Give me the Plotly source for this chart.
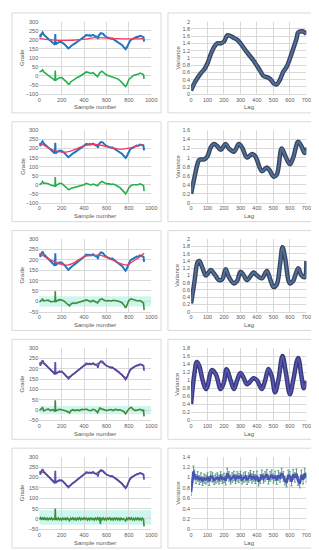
import plotly.graph_objects as go

W, H = 319, 550

# ---------------- data: grade series (shared by all left panels) ----------------
sample_no = [0, 10, 20, 30, 40, 50, 60, 70, 80, 90, 100, 110, 120, 130, 140, 143, 146, 150, 160, 170,
             180, 190, 200, 210, 220, 230, 240, 250, 260, 270, 280, 290, 300, 310, 320, 330, 340, 350,
             360, 370, 380, 390, 400, 410, 420, 430, 440, 450, 460, 470, 480, 490, 500, 510, 520, 523,
             530, 540, 550, 560, 570, 580, 590, 600, 610, 620, 630, 640, 650, 660, 670, 680, 690, 700,
             710, 720, 730, 740, 750, 760, 770, 780, 790, 800, 810, 820, 830, 840, 850, 860, 870, 880,
             890, 900, 910, 920, 930, 935]
grade = [228, 214, 232, 240, 228, 222, 218, 210, 206, 200, 197, 190, 184, 176, 172, 232, 174, 176, 181, 184,
         188, 186, 187, 182, 178, 172, 165, 155, 152, 157, 164, 168, 173, 176, 180, 186, 190, 194,
         197, 202, 206, 210, 215, 220, 226, 224, 222, 225, 221, 224, 227, 222, 219, 216, 214, 204,
         222, 230, 236, 235, 232, 224, 218, 214, 212, 210, 206, 205, 207, 203, 200, 197, 193, 190,
         186, 181, 176, 170, 162, 154, 148, 156, 168, 186, 194, 200, 204, 208, 210, 212, 216, 215,
         218, 222, 220, 218, 214, 190]

# trends
trend1_x = [0, 100, 200, 300, 400, 500, 600, 700, 800, 935]
trend1 = [206, 200, 196, 197, 203, 211, 209, 206, 205, 206]
trend2_x = [0, 50, 100, 150, 200, 250, 300, 350, 400, 450, 500, 550, 600, 650, 700, 750, 800, 850, 900, 935]
trend2 = [228, 215, 198, 185, 180, 181, 190, 203, 215, 222, 223, 218, 210, 203, 198, 197, 202, 210, 217, 222]
trend3_x = [0, 100, 200, 250, 300, 350, 400, 450, 500, 550, 600, 650, 700, 750, 780, 800, 850, 900, 935]
trend3 = [232, 200, 178, 175, 183, 200, 215, 222, 222, 222, 212, 200, 188, 178, 175, 180, 198, 215, 232]
trend4_x = [0, 50, 100, 150, 200, 250, 300, 350, 400, 450, 500, 550, 600, 650, 700, 750, 780, 800, 850, 900, 935]
trend4 = [230, 222, 196, 180, 184, 160, 172, 194, 214, 223, 220, 230, 214, 205, 190, 163, 158, 182, 210, 220, 214]
trend5 = [229, 221, 197, 178, 185, 158, 173, 195, 215, 224, 219, 232, 214, 206, 190, 162, 156, 184, 210, 221, 212]

# residuals
resid_x = [0, 20, 30, 40, 60, 80, 100, 120, 140, 143, 146, 160, 180, 200, 220, 240, 260, 270, 280, 300,
           320, 340, 360, 380, 400, 420, 440, 460, 480, 500, 520, 540, 560, 580, 600, 620, 640, 660,
           680, 700, 720, 740, 760, 770, 780, 800, 820, 840, 860, 880, 900, 920, 930, 935]
resid1 = [22, 27, 34, 22, 13, 5, -3, -14, -26, 30, -24, -17, -10, -9, -18, -31, -45, -44, -33, -24,
          -17, -8, -3, 5, 12, 22, 19, 14, 18, 8, -4, 19, 26, 15, 5, 1, -4, -5,
          -10, -16, -25, -36, -52, -58, -49, -19, -5, 3, 7, 9, 16, 12, 8, -16]
resid2 = [0, 8, 18, 8, 8, 6, -1, -4, -8, 42, -8, 0, 8, 7, -2, -14, -27, -26, -20, -17,
          -15, -10, -9, -5, 0, 8, 2, -1, 4, -3, -6, 11, 18, 12, 4, 6, 2, 4,
          -1, -8, -16, -27, -42, -50, -42, -16, -4, 0, 0, 0, 5, 0, -4, -35]
resid3 = [-4, 4, 10, 2, 5, 6, -2, 0, 0, 48, -2, 3, 8, 6, 2, -8, -20, -22, -14, -8,
          -10, -6, -5, 0, 5, 7, 3, -2, 4, -2, -8, 8, 12, 5, 2, 4, 2, 5,
          4, 2, -2, -8, -22, -32, -22, 5, 12, 8, 6, 2, 4, -5, -8, -42]
resid4 = [-2, 8, 12, -4, 3, 6, -2, 2, -6, 48, -5, 0, 4, 2, 0, -4, -10, -14, -4, 2,
          -2, 1, -2, 4, 2, 5, -1, -3, 4, 0, -12, 10, 6, 3, -2, 1, 3, -2,
          4, 0, 2, -3, -10, -18, -8, 6, 14, 3, -2, 2, 4, -2, 0, -30]
resid5_x = [0, 10, 20, 30, 40, 50, 60, 70, 80, 90, 100, 110, 120, 130, 140, 143, 146, 150, 160, 170,
            180, 190, 200, 210, 220, 230, 240, 250, 260, 270, 280, 290, 300, 310, 320, 330, 340, 350,
            360, 370, 380, 390, 400, 410, 420, 430, 440, 450, 460, 470, 480, 490, 500, 510, 520, 530,
            540, 545, 550, 560, 570, 580, 590, 600, 610, 620, 630, 640, 650, 660, 670, 680, 690, 700,
            710, 720, 730, 740, 750, 760, 770, 780, 790, 800, 810, 820, 830, 840, 850, 860, 870, 880,
            890, 900, 910, 920, 930, 935]
resid5 = [-2, 6, -5, 8, -4, 5, -3, 4, -6, 3, -2, 5, -4, 2, -3, 50, -6, 4, -3, 5,
          -4, 2, -5, 4, -2, 3, -6, 5, -3, -8, 4, -2, 5, -4, 3, -5, 4, -2,
          6, -4, 3, -3, 5, -2, 4, -5, 3, -4, 6, -3, 2, -5, 4, -3, 5, -6,
          8, -24, 4, -3, 5, -4, 3, -5, 4, -2, 5, -4, 3, -5, 4, -3, 6, -4,
          3, -5, 4, -3, 2, -6, -9, 4, -3, 7, -2, 5, -4, 3, -5, 4, -3, 5,
          -4, 3, -5, 4, -3, -36]

# confidence bands of the residual (rows 3-5)
band_lo = [-25, -20, -28]
band_hi = [25, 20, 42]

# ---------------- data: variograms ----------------
lag1 = [0, 20, 40, 60, 80, 100, 120, 140, 160, 180, 200, 220, 240, 260, 280, 300, 340, 380, 400, 420,
        440, 470, 490, 500, 520, 540, 560, 580, 600, 620, 640, 650, 670, 690, 700]
var1 = [0.1, 0.3, 0.45, 0.58, 0.68, 0.85, 1.1, 1.3, 1.4, 1.4, 1.45, 1.62, 1.6, 1.55, 1.5, 1.4, 1.15, 0.92, 0.78, 0.64,
        0.5, 0.45, 0.37, 0.3, 0.27, 0.4, 0.62, 0.75, 0.98, 1.25, 1.52, 1.7, 1.73, 1.7, 1.65]
lag2 = [0, 20, 40, 50, 80, 100, 120, 140, 160, 180, 210, 230, 260, 290, 310, 340, 370, 390, 430, 460,
        480, 500, 520, 550, 570, 600, 620, 650, 670, 690, 700]
var2 = [0.2, 0.55, 0.87, 0.95, 0.96, 1.03, 1.23, 1.3, 1.25, 1.17, 1.3, 1.2, 1.13, 1.3, 1.22, 1.0, 1.08, 1.03, 0.7, 0.78,
        0.7, 0.58, 0.62, 1.2, 1.05, 0.85, 1.0, 1.35, 1.25, 1.1, 1.22]
lag3 = [0, 20, 40, 50, 70, 90, 120, 140, 170, 190, 210, 230, 260, 280, 300, 320, 340, 380, 400, 430,
        460, 480, 500, 520, 540, 555, 570, 600, 620, 650, 670, 690, 700]
var3 = [0.23, 0.8, 1.37, 1.4, 1.2, 1.0, 1.15, 1.05, 0.87, 0.9, 1.17, 0.95, 0.78, 0.85, 1.1, 1.0, 0.87, 1.08, 1.0, 0.92,
        1.12, 0.9, 0.68, 0.75, 1.3, 1.78, 1.5, 0.78, 0.85, 1.2, 1.0, 0.95, 1.4]
lag4 = [0, 20, 35, 50, 70, 90, 100, 125, 150, 180, 200, 215, 240, 260, 280, 300, 320, 340, 380, 400,
        430, 450, 470, 490, 510, 530, 555, 575, 600, 620, 650, 670, 685, 700]
var4 = [0.41, 1.15, 1.45, 1.35, 1.0, 0.78, 0.85, 1.25, 1.15, 0.78, 0.95, 1.27, 1.0, 0.78, 1.0, 1.18, 1.05, 0.9, 1.05, 1.0,
        0.78, 1.0, 1.28, 1.1, 0.7, 1.0, 1.6, 1.2, 0.65, 1.0, 1.55, 1.1, 0.8, 0.98]
lag5 = [0, 10, 15, 20, 30, 40, 50, 60, 70, 80, 90, 100, 110, 120, 130, 140, 150, 160, 170, 180, 190, 200,
        210, 220, 230, 240, 250, 260, 270, 280, 290, 300, 310, 320, 330, 340, 350, 360, 370, 380, 390, 400,
        410, 420, 430, 440, 450, 460, 470, 480, 490, 500, 510, 520, 530, 540, 550, 560, 570, 580, 590, 600,
        610, 620, 630, 640, 650, 660, 670, 680, 690, 700]
var5 = [0.72, 1.0, 1.12, 1.05, 0.97, 1.02, 0.95, 1.0, 0.93, 0.98, 0.96, 1.0, 0.93, 1.02, 1.0, 0.95, 0.98, 1.0, 0.96, 1.02, 0.97, 0.99,
        0.94, 1.08, 1.02, 0.96, 1.0, 1.03, 0.97, 1.02, 0.99, 1.03, 0.96, 1.0, 1.02, 0.95, 1.0, 1.04, 0.98, 1.02, 0.97, 1.03,
        0.92, 0.97, 1.05, 0.98, 1.02, 1.06, 0.96, 1.02, 1.05, 0.98, 1.03, 0.95, 1.04, 1.0, 1.08, 1.02, 0.94, 0.9, 1.05, 1.02,
        0.92, 1.06, 1.0, 1.07, 0.93, 0.88, 1.05, 0.96, 1.08, 1.0]

left_yranges = [(-100, 300), (-100, 300), (-50, 300), (-50, 300), (-50, 300)]
right_ymax = [2, 1.6, 2, 1.8, 1.4]

trends = [(trend1_x, trend1), (trend2_x, trend2), (trend3_x, trend3), (trend4_x, trend4), (trend4_x, trend5)]
resids = [(resid_x, resid1), (resid_x, resid2), (resid_x, resid3), (resid_x, resid4), (resid5_x, resid5)]
vario = [(lag1, var1), (lag2, var2), (lag3, var3), (lag4, var4), (lag5, var5)]

# ---------------- layout helpers ----------------
def fx(p):
    return p / W

def fy(p):
    return 1 - p / H

TICKFONT = dict(family="Liberation Sans, Arial, sans-serif", size=5.5, color="#595959")
TITLEFONT = dict(family="Liberation Sans, Arial, sans-serif", size=6, color="#595959")
GRID = "#d9d9d9"

fig = go.Figure()
layout = dict(width=W, height=H, margin=dict(l=0, r=0, t=0, b=0),
              paper_bgcolor="white", plot_bgcolor="white", showlegend=False)
shapes = []
annotations = []

L_X0, L_X1 = 30, 145
R_X0, R_X1 = 185.7, 304

for r in range(5):
    top = 10.7 + 110 * r
    bot = 84.0 + 110 * r
    la = 2 * r + 1
    ra = 2 * r + 2
    lx = "x" if la == 1 else f"x{la}"
    ly = "y" if la == 1 else f"y{la}"
    rx = f"x{ra}"
    ry = f"y{ra}"

    # panel boxes
    for bx0, bx1 in [(2, 155), (162, 316)]:
        shapes.append(dict(type="rect", xref="paper", yref="paper",
                           x0=fx(bx0), x1=fx(bx1), y0=fy(103 + 110 * r), y1=fy(2 + 110 * r),
                           line=dict(color="#d9d9d9", width=1), fillcolor="rgba(0,0,0,0)", layer="below"))

    axcommon = dict(showgrid=True, gridcolor=GRID, gridwidth=1, zeroline=False, tickfont=TICKFONT,
                    ticks="", showline=False)
    layout[("xaxis" if la == 1 else f"xaxis{la}")] = dict(
        axcommon, domain=[fx(L_X0), fx(L_X1)], range=[0, 1000], dtick=200, tick0=0,
        anchor=ly, showline=True, linecolor=GRID)
    lo, hi = left_yranges[r]
    layout[("yaxis" if la == 1 else f"yaxis{la}")] = dict(
        axcommon, domain=[fy(bot), fy(top)], range=[lo, hi], dtick=50, tick0=0, anchor=lx)
    layout[f"xaxis{ra}"] = dict(
        axcommon, domain=[fx(R_X0), fx(R_X1)], range=[0, 700], dtick=100, tick0=0,
        anchor=ry, showline=True, linecolor=GRID)
    layout[f"yaxis{ra}"] = dict(
        axcommon, domain=[fy(bot), fy(top)], range=[0, right_ymax[r]], dtick=0.2, tick0=0, anchor=rx)

    # bands
    if r >= 2:
        shapes.append(dict(type="rect", xref=lx, yref=ly, x0=0, x1=1000,
                           y0=band_lo[r - 2], y1=band_hi[r - 2],
                           line=dict(width=0), fillcolor="#cdf7ee", layer="below"))

    # left series
    if r < 2:
        blue = "#1f76c0"
    elif r == 2:
        blue = "#2477bd"
    else:
        blue = "#4346aa"
    green = "#22b04c" if r < 2 else "#3c8c3a"
    tx, ty = trends[r]
    gx, gy = resids[r]
    if r < 3:
        fig.add_trace(go.Scatter(x=sample_no, y=grade, mode="lines", line=dict(color=blue, width=2),
                                 xaxis=lx, yaxis=ly, hoverinfo="skip"))
        fig.add_trace(go.Scatter(x=tx, y=ty, mode="lines", line=dict(color="#f23a5e", width=1.3, shape="spline"),
                                 xaxis=lx, yaxis=ly, hoverinfo="skip"))
    else:
        fig.add_trace(go.Scatter(x=tx, y=ty, mode="lines", line=dict(color="#e0405e", width=1.2, shape="spline"),
                                 xaxis=lx, yaxis=ly, hoverinfo="skip"))
        fig.add_trace(go.Scatter(x=sample_no, y=grade, mode="lines", line=dict(color=blue, width=1.8),
                                 xaxis=lx, yaxis=ly, hoverinfo="skip", opacity=0.92))
    fig.add_trace(go.Scatter(x=gx, y=gy, mode="lines", line=dict(color=green, width=1.6),
                             xaxis=lx, yaxis=ly, hoverinfo="skip"))

    # right series
    vx, vy = vario[r]
    if r < 3:
        outer, inner = "#3a4660", "#51729c"
    elif r == 3:
        outer, inner = "#3a3a78", "#5656b4"
    else:
        outer, inner = None, "#4a52b8"
    if outer:
        fig.add_trace(go.Scatter(x=vx, y=vy, mode="lines", line=dict(color=outer, width=4.5, shape="spline"),
                                 xaxis=rx, yaxis=ry, hoverinfo="skip"))
        fig.add_trace(go.Scatter(x=vx, y=vy, mode="lines", line=dict(color=inner, width=1.8, shape="spline"),
                                 xaxis=rx, yaxis=ry, hoverinfo="skip"))
    else:
        fig.add_trace(go.Scatter(x=vx, y=vy, mode="lines",
                                 line=dict(color=inner, width=2.5),
                                 error_y=dict(type="percent", value=9, color="#5f9c86", thickness=1, width=1),
                                 xaxis=rx, yaxis=ry, hoverinfo="skip"))

    # axis titles
    annotations.append(dict(text="Grade", xref="paper", yref="paper", x=fx(12.5), y=fy((top + bot) / 2),
                            textangle=-90, showarrow=False, font=TITLEFONT, xanchor="center", yanchor="middle"))
    annotations.append(dict(text="Sample number", xref="paper", yref="paper", x=fx((L_X0 + L_X1) / 2),
                            y=fy(97.5 + 110 * r), showarrow=False, font=TITLEFONT, xanchor="center", yanchor="middle"))
    annotations.append(dict(text="Variance", xref="paper", yref="paper", x=fx(172), y=fy((top + bot) / 2),
                            textangle=-90, showarrow=False, font=TITLEFONT, xanchor="center", yanchor="middle"))
    annotations.append(dict(text="Lag", xref="paper", yref="paper", x=fx((R_X0 + R_X1) / 2),
                            y=fy(97.5 + 110 * r), showarrow=False, font=TITLEFONT, xanchor="center", yanchor="middle"))

layout["shapes"] = shapes
layout["annotations"] = annotations
fig.update_layout(**layout)
fig.write_html("out.html")
